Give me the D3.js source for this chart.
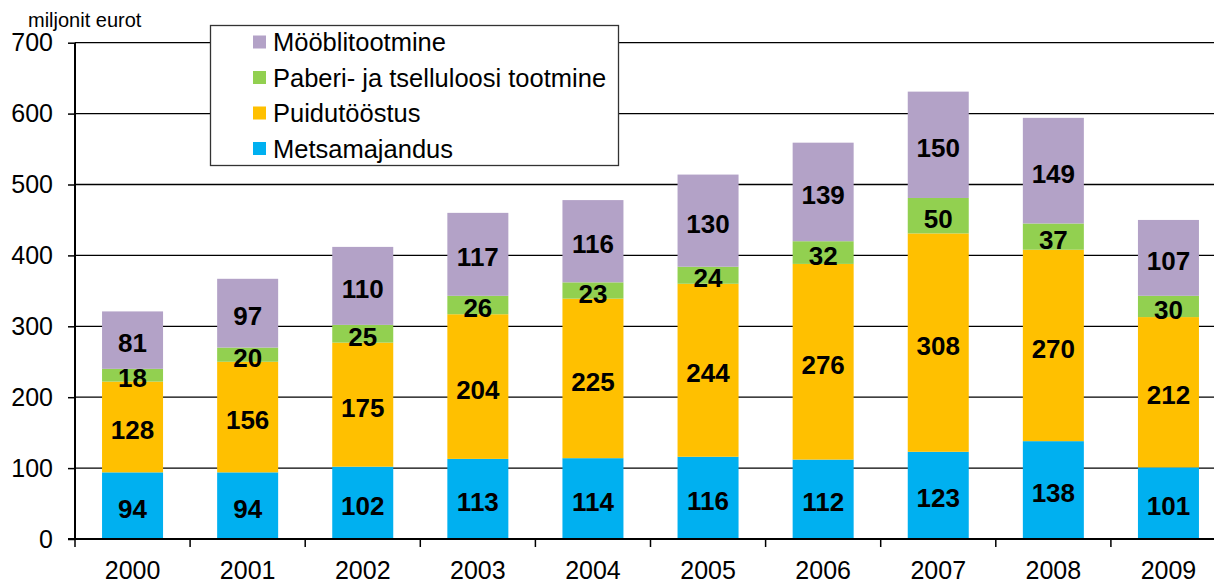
<!DOCTYPE html>
<html>
<head>
<meta charset="utf-8">
<script src="https://cdn.jsdelivr.net/npm/d3@7"></script>
<style>
  body { margin: 0; background: #fff; }
  svg { display: block; font-family: "Liberation Sans", Arial, sans-serif; }
</style>
</head>
<body>
<svg id="chart" width="1214" height="583"></svg>
<script>
// data
var years = ["2000", "2001", "2002", "2003", "2004", "2005", "2006", "2007", "2008", "2009"];
var metsamajandus = [94, 94, 102, 113, 114, 116, 112, 123, 138, 101];
var puidutoostus = [128, 156, 175, 204, 225, 244, 276, 308, 270, 212];
var paber = [18, 20, 25, 26, 23, 24, 32, 50, 37, 30];
var mooblitootmine = [81, 97, 110, 117, 116, 130, 139, 150, 149, 107];
var seriesNames = ["Metsamajandus", "Puidutööstus", "Paberi- ja tselluloosi tootmine", "Mööblitootmine"];
var seriesColors = ["#00B0F0", "#FFC000", "#92D050", "#B3A2C7"];
var yTicks = [0, 100, 200, 300, 400, 500, 600, 700];

var allSeries = [metsamajandus, puidutoostus, paber, mooblitootmine];

var rows = years.map(function(y, i) {
  var r = { year: y };
  seriesNames.forEach(function(n, k) { r[n] = allSeries[k][i]; });
  return r;
});

var svg = d3.select("#chart");

var x = d3.scaleBand().domain(years).range([75, 1226]).paddingInner(0.47).paddingOuter(0.235);
var xEdge = d3.scaleBand().domain(years).range([75, 1226]);
var y = d3.scaleLinear().domain([0, 700]).range([539, 42.7]);

// gridlines
svg.append("g").selectAll("line").data(yTicks.slice(1)).enter().append("line")
  .attr("x1", 75).attr("x2", 1214)
  .attr("y1", function(d) { return y(d); }).attr("y2", function(d) { return y(d); })
  .attr("stroke", "#000").attr("stroke-width", 1.3);

var stack = d3.stack().keys(seriesNames)(rows);

var layer = svg.append("g").selectAll("g").data(stack).enter().append("g")
  .attr("fill", function(d, i) { return seriesColors[i]; });

layer.selectAll("rect").data(function(d) { return d; }).enter().append("rect")
  .attr("x", function(d) { return x(d.data.year); })
  .attr("width", x.bandwidth())
  .attr("y", function(d) { return y(d[1]); })
  .attr("height", function(d) { return y(d[0]) - y(d[1]); });

layer.selectAll("text").data(function(d) { return d; }).enter().append("text")
  .attr("x", function(d) { return x(d.data.year) + x.bandwidth() / 2; })
  .attr("y", function(d) { return (y(d[0]) + y(d[1])) / 2 + 3; })
  .attr("dy", "0.35em")
  .attr("text-anchor", "middle")
  .attr("fill", "#000")
  .style("font-weight", "bold")
  .style("font-size", "26px")
  .text(function(d) { return d[1] - d[0]; });

// y axis
var yAxis = svg.append("g").attr("transform", "translate(75,0)")
  .call(d3.axisLeft(y).tickValues(yTicks).tickSize(7).tickPadding(15));
yAxis.select(".domain").attr("stroke", "#000").attr("stroke-width", 2).attr("d", "M0," + y(700) + "V" + y(0));
yAxis.selectAll(".tick line").attr("stroke", "#000").attr("stroke-width", 1.5);
yAxis.selectAll("text").style("font-size", "25px").attr("fill", "#000").attr("font-family", null);

// x axis with ticks at category boundaries
svg.append("line").attr("x1", 68).attr("x2", 1214).attr("y1", y(0)).attr("y2", y(0))
  .attr("stroke", "#000").attr("stroke-width", 2);
svg.append("g").selectAll("line").data(years).enter().append("line")
  .attr("x1", function(d) { return xEdge(d); }).attr("x2", function(d) { return xEdge(d); })
  .attr("y1", y(0)).attr("y2", y(0) + 8)
  .attr("stroke", "#000").attr("stroke-width", 1.5);
svg.append("g").selectAll("text").data(years).enter().append("text")
  .attr("x", function(d) { return x(d) + x.bandwidth() / 2; })
  .attr("y", 579)
  .attr("text-anchor", "middle")
  .style("font-size", "25px")
  .text(function(d) { return d; });

svg.append("text").attr("x", 28).attr("y", 27).style("font-size", "20px").text("miljonit eurot");

// legend
var legend = svg.append("g");
legend.append("rect").attr("x", 210.5).attr("y", 25.5).attr("width", 408).attr("height", 140)
  .attr("fill", "#fff").attr("stroke", "#333").attr("stroke-width", 1.3);
var legendOrder = [3, 2, 1, 0];
var item = legend.selectAll("g.item").data(legendOrder).enter().append("g")
  .attr("transform", function(d, i) { return "translate(253," + (42 + i * 35.5) + ")"; });
item.append("rect").attr("x", 0).attr("y", -6.5).attr("width", 13).attr("height", 13)
  .attr("fill", function(d) { return seriesColors[d]; });
item.append("text").attr("x", 20).attr("y", 9).style("font-size", "25.5px")
  .text(function(d) { return seriesNames[d]; });
</script>
</body>
</html>
